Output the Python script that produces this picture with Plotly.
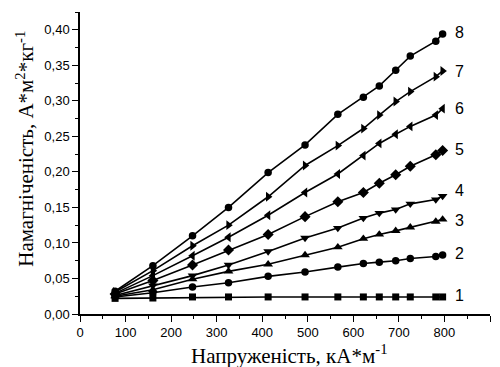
import plotly.graph_objects as go

# Field strength, kA/m
field = [77, 160, 247, 326, 413, 494, 566, 622, 657, 693, 725, 781, 796]

s1 = [0.022, 0.0225, 0.024, 0.024, 0.024, 0.024, 0.024, 0.024, 0.024, 0.024, 0.024, 0.024, 0.024]
s2 = [0.024, 0.030, 0.038, 0.044, 0.053, 0.059, 0.066, 0.071, 0.073, 0.075, 0.078, 0.081, 0.083]
s3 = [0.025, 0.034, 0.049, 0.060, 0.070, 0.083, 0.094, 0.106, 0.112, 0.117, 0.122, 0.130, 0.133]
s4 = [0.026, 0.040, 0.054, 0.069, 0.088, 0.107, 0.121, 0.135, 0.142, 0.147, 0.155, 0.161, 0.166]
s5 = [0.028, 0.047, 0.069, 0.090, 0.112, 0.137, 0.158, 0.171, 0.184, 0.196, 0.208, 0.224, 0.230]
s6 = [0.029, 0.054, 0.082, 0.108, 0.139, 0.171, 0.197, 0.223, 0.240, 0.253, 0.264, 0.280, 0.289]
s7 = [0.031, 0.061, 0.096, 0.125, 0.165, 0.209, 0.237, 0.261, 0.280, 0.299, 0.313, 0.334, 0.342]
s8 = [0.032, 0.068, 0.110, 0.150, 0.199, 0.238, 0.281, 0.305, 0.321, 0.343, 0.363, 0.384, 0.394]

series = [s1, s2, s3, s4, s5, s6, s7, s8]
names = ["1", "2", "3", "4", "5", "6", "7", "8"]
symbols = ["square", "circle", "triangle-up", "triangle-down", "diamond",
           "triangle-left", "triangle-right", "circle"]
marker_sizes = [7, 7.5, 8.5, 8.5, 8.5, 8.5, 8.5, 7.5]
label_y = [0.026, 0.0856, 0.131, 0.1735, 0.232, 0.289, 0.341, 0.396]

xtick_vals = [0, 100, 200, 300, 400, 500, 600, 700, 800, 900]
ytick_vals = [0.00, 0.05, 0.10, 0.15, 0.20, 0.25, 0.30, 0.35, 0.40]

y_title = "Намагніченість, А*м<sup>2</sup>*кг<sup>-1</sup>"
x_title = "Напруженість, кА*м<sup>-1</sup>"

fig = go.Figure()
for vals, name, sym, ms in zip(series, names, symbols, marker_sizes):
    fig.add_trace(go.Scatter(
        x=field, y=vals, mode="lines+markers", name=name,
        line=dict(color="black", width=1.6),
        marker=dict(symbol=sym, size=ms, color="black", line=dict(width=0)),
        showlegend=False, cliponaxis=False,
    ))

for name, ly in zip(names, label_y):
    fig.add_annotation(x=818, y=ly, xref="x", yref="y", text=name,
                       showarrow=False, xanchor="left", yanchor="middle",
                       font=dict(family="Liberation Sans", size=16, color="black"))

fig.add_annotation(x=-0.135, y=0.546, xref="paper", yref="paper", text=y_title,
                   showarrow=False, textangle=-90, xanchor="center", yanchor="middle",
                   font=dict(family="Liberation Serif", size=21, color="black"))
fig.add_annotation(x=0.51, y=-0.133, xref="paper", yref="paper", text=x_title,
                   showarrow=False, xanchor="center", yanchor="middle",
                   font=dict(family="Liberation Serif", size=21, color="black"))

axis_common = dict(showgrid=False, zeroline=False, showline=True, linecolor="black",
                   linewidth=1.5, ticks="outside", ticklen=6, tickwidth=1.2,
                   tickcolor="black",
                   tickfont=dict(family="Liberation Sans", size=13, color="black"))

fig.update_xaxes(range=[0, 900], tickvals=xtick_vals,
                 minor=dict(dtick=50, ticks="outside", ticklen=3, tickcolor="black", tickwidth=1),
                 **axis_common)
fig.update_yaxes(range=[0, 0.425], tickvals=ytick_vals, tickformat=".2f",
                 minor=dict(dtick=0.025, ticks="outside", ticklen=3, tickcolor="black", tickwidth=1),
                 **axis_common)

# page body has an 8px margin, so the figure is sized/offset to compensate
fig.update_layout(
    width=492, height=359,
    margin=dict(l=72, r=10, t=4, b=53),
    paper_bgcolor="white", plot_bgcolor="white",
    separators=", ",
)

fig.write_html("out.html")
